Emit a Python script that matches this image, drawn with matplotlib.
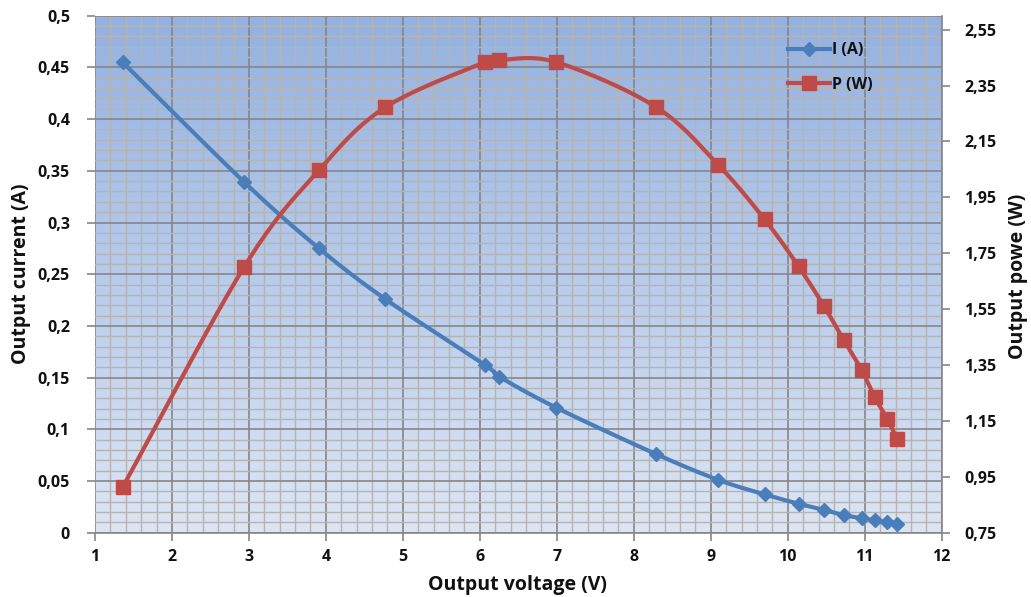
import numpy as np
import matplotlib
matplotlib.use("Agg")
import matplotlib.pyplot as plt
from matplotlib.lines import Line2D
from matplotlib.colors import LinearSegmentedColormap

# ---- data ----
voltage = [1.36, 2.94, 3.91, 4.77, 6.07, 6.25, 6.99, 8.29, 9.10, 9.70,
           10.14, 10.47, 10.73, 10.96, 11.13, 11.29, 11.42]
current = [0.455, 0.339, 0.275, 0.226, 0.162, 0.151, 0.121, 0.076, 0.051, 0.037,
           0.028, 0.022, 0.017, 0.014, 0.012, 0.010, 0.008]
power = [0.913, 1.702, 2.047, 2.272, 2.434, 2.441, 2.434, 2.273, 2.065, 1.871,
         1.703, 1.561, 1.438, 1.332, 1.235, 1.158, 1.086]

x_ticks = list(range(1, 13))
left_ticks = [0, 0.05, 0.1, 0.15, 0.2, 0.25, 0.3, 0.35, 0.4, 0.45, 0.5]
left_labels = ["0", "0,05", "0,1", "0,15", "0,2", "0,25", "0,3", "0,35", "0,4", "0,45", "0,5"]
right_ticks = [0.75, 0.95, 1.15, 1.35, 1.55, 1.75, 1.95, 2.15, 2.35, 2.55]
right_labels = ["0,75", "0,95", "1,15", "1,35", "1,55", "1,75", "1,95", "2,15", "2,35", "2,55"]

series_names = ["I (A)", "P (W)"]
x_label = "Output voltage (V)"
y_label_left = "Output current (A)"
y_label_right = "Output powe (W)"


def smooth(xs, ys, n=20):
    """Catmull-Rom smoothing (like Excel's smoothed line) for rendering."""
    p = np.column_stack([xs, ys]).astype(float)
    p = np.vstack([2 * p[0] - p[1], p, 2 * p[-1] - p[-2]])
    out = []
    t = np.linspace(0, 1, n, endpoint=False)[:, None]
    for i in range(1, len(p) - 2):
        p0, p1, p2, p3 = p[i - 1], p[i], p[i + 1], p[i + 2]
        seg = 0.5 * ((2 * p1) + (-p0 + p2) * t + (2 * p0 - 5 * p1 + 4 * p2 - p3) * t ** 2
                     + (-p0 + 3 * p1 - 3 * p2 + p3) * t ** 3)
        out.append(seg)
    out.append(p[-2][None, :])
    out = np.vstack(out)
    return out[:, 0], out[:, 1]


plt.rcParams['font.family'] = ['Open Sans', 'DejaVu Sans']
text_color = '#111111'
tick_fs = 11.5
label_fs = 14

W, H = 1031, 597
fig = plt.figure(figsize=(W / 100, H / 100), dpi=100)
ax = fig.add_axes([0.0921, 0.1077, 0.9134 - 0.0921, 0.9737 - 0.1077])

# gradient background
cmap = LinearSegmentedColormap.from_list('bg', ['#DDE5F3', '#93B1E1'])
grad = np.linspace(0, 1, 256).reshape(-1, 1)
ax.imshow(grad, aspect='auto', cmap=cmap, origin='lower',
          extent=[0, 1, 0, 1], transform=ax.transAxes, zorder=0)

ax.set_xlim(1, 12)
ax.set_ylim(0, 0.5)
ax.set_xticks(x_ticks)
ax.set_xticks(np.arange(1, 12.001, 0.2), minor=True)
ax.set_yticks(left_ticks)
ax.set_yticklabels(left_labels)
ax.set_yticks(np.arange(0, 0.5001, 0.01), minor=True)

ax.grid(which='minor', color='#B4B4B4', linewidth=1.0, zorder=1)
ax.grid(which='major', color='#868686', linewidth=1.2, zorder=1)
ax.set_axisbelow(False)

for s in ['top', 'left']:
    ax.spines[s].set_visible(False)
ax.spines['bottom'].set_color('#868686')
ax.spines['bottom'].set_linewidth(1.2)
ax.spines['right'].set_visible(False)

ax.tick_params(axis='both', which='minor', length=0)
ax.tick_params(axis='both', which='major', length=6, width=1.2, color='#868686',
               labelsize=tick_fs, labelcolor=text_color)
ax.tick_params(axis='y', which='major', pad=12)
ax.tick_params(axis='x', which='major', pad=6)
for lab in ax.get_xticklabels() + ax.get_yticklabels():
    lab.set_fontweight('bold')

# current line
xs, ys = smooth(voltage, current)
ax.plot(xs, ys, color='#4A7EBB', linewidth=3, zorder=3, solid_capstyle='round')
ax.plot(voltage, current, linestyle='none', marker='D', markersize=7,
        color='#4A7EBB', zorder=4)

ax2 = ax.twinx()
ax2.set_position(ax.get_position())
ax2.set_ylim(0.75, 2.6)
ax2.set_yticks(right_ticks)
ax2.set_yticklabels(right_labels)
for s in ['top', 'left', 'bottom']:
    ax2.spines[s].set_visible(False)
ax2.spines['right'].set_color('#868686')
ax2.spines['right'].set_linewidth(1.2)
ax2.tick_params(axis='y', which='major', length=6, width=1.2, color='#868686',
                labelsize=tick_fs, labelcolor=text_color, pad=10)
for lab in ax2.get_yticklabels():
    lab.set_fontweight('bold')

xp, yp = smooth(voltage, power)
ax2.plot(xp, yp, color='#BE4B48', linewidth=3, zorder=3, solid_capstyle='round')
ax2.plot(voltage, power, linestyle='none', marker='s', markersize=9.5,
         color='#BE4B48', zorder=4)

# axis titles placed in figure pixels
fig.text(517 / W, 1 - 585 / H, x_label, ha='center', va='center',
         fontsize=label_fs, fontweight='bold', color=text_color)
fig.text(21 / W, 1 - 274 / H, y_label_left, ha='center', va='center', rotation=90,
         fontsize=label_fs, fontweight='bold', color=text_color)
fig.text(1018 / W, 1 - 276 / H, y_label_right, ha='center', va='center', rotation=90,
         fontsize=label_fs, fontweight='bold', color=text_color)

handles = [
    Line2D([], [], color='#4A7EBB', linewidth=3, marker='D', markersize=7),
    Line2D([], [], color='#BE4B48', linewidth=3, marker='s', markersize=9.5),
]
leg = ax2.legend(handles, series_names, loc='upper left',
                 bbox_to_anchor=(782 / W, 1 - 36 / H), bbox_transform=fig.transFigure,
                 frameon=False, fontsize=tick_fs, handlelength=2.6, handletextpad=0.1,
                 labelspacing=1.15, borderaxespad=0)
for t in leg.get_texts():
    t.set_fontweight('bold')
    t.set_color(text_color)

fig.savefig('out.png', dpi=100)
